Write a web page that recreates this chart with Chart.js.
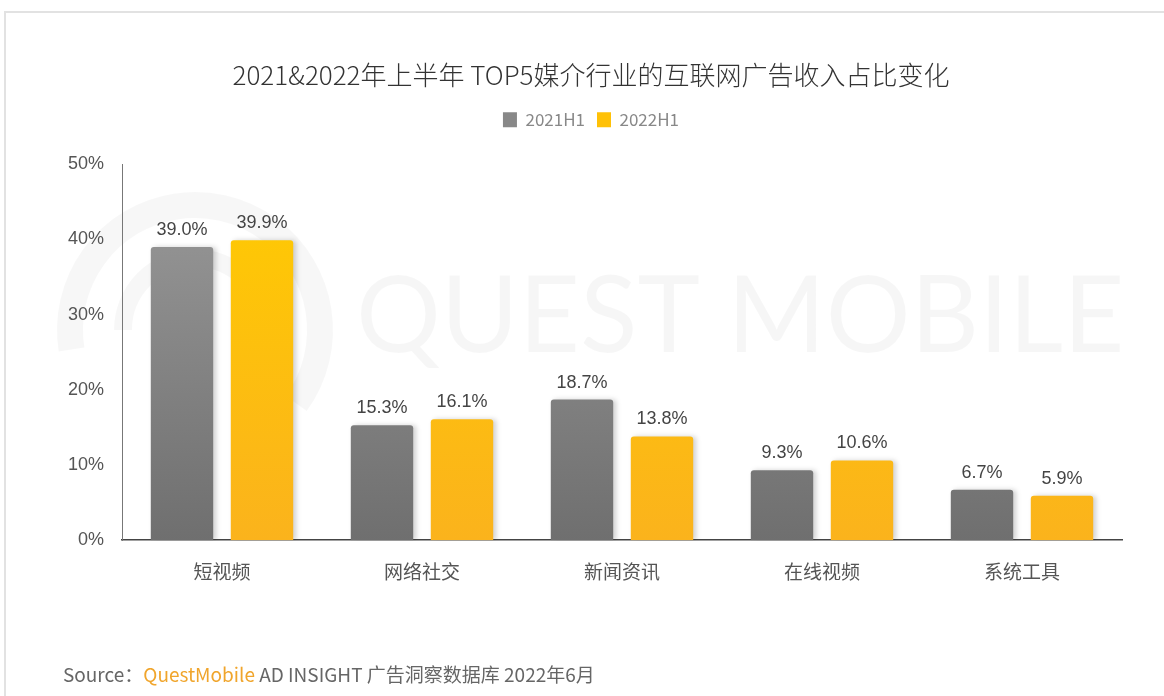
<!DOCTYPE html>
<html>
<head>
<meta charset="utf-8">
<script src="https://cdn.jsdelivr.net/npm/chart.js@4"></script>
<style>
  html, body { margin: 0; padding: 0; background: #fff; }
  #wrap { position: relative; width: 1164px; height: 696px; }
</style>
</head>
<body>
<div id="wrap"><canvas id="barChart" width="1164" height="696"></canvas></div>
<script>
const categories = ["短视频", "网络社交", "新闻资讯", "在线视频", "系统工具"];
const values2021 = [39.0, 15.3, 18.7, 9.3, 6.7];
const values2022 = [39.9, 16.1, 13.8, 10.6, 5.9];
const seriesLabels = ["2021H1", "2022H1"];
const yTicks = [0, 10, 20, 30, 40, 50];

const cjk = "'Noto Sans CJK SC', 'Liberation Sans', sans-serif";
const num = "'Liberation Sans', Arial, sans-serif";

function gradient(ctx, top, bottom) {
  const area = ctx.chart.chartArea;
  if (!area) return top;
  const g = ctx.chart.ctx.createLinearGradient(0, area.top, 0, area.bottom);
  g.addColorStop(0, top);
  g.addColorStop(1, bottom);
  return g;
}

// empty box between legend and plot
const spacer = {
  id: "spacer",
  afterInit(chart) {
    Chart.layouts.addBox(chart, {
      position: "top",
      weight: 0,
      fullSize: true,
      options: {},
      isHorizontal: () => true,
      getPadding: () => ({ top: 0, left: 0, right: 0, bottom: 0 }),
      update(w) { this.width = w; this.height = 26; },
      draw() {},
    });
  },
};

// frame, watermark, value labels and source line
const decorations = {
  id: "decorations",
  beforeDraw(chart) {
    const c = chart.ctx;
    c.save();
    c.strokeStyle = "#e2e2e2";
    c.lineWidth = 2;
    c.beginPath();
    c.moveTo(1164, 12);
    c.lineTo(5, 12);
    c.lineTo(5, 696);
    c.stroke();
    // watermark
    c.strokeStyle = "rgba(0,0,0,0.03)";
    c.lineWidth = 26;
    c.beginPath();
    c.arc(195, 330, 125, Math.PI * 0.95, Math.PI * 2.2);
    c.stroke();
    c.lineWidth = 18;
    c.beginPath();
    c.arc(195, 330, 72, Math.PI * 1.0, Math.PI * 2.1);
    c.stroke();
    c.fillStyle = "rgba(0,0,0,0.035)";
    c.font = "400 106px Lato, sans-serif";
    c.textBaseline = "middle";
    c.textAlign = "left";
    c.fillText("QUEST MOBILE", 356, 318);
    c.restore();
  },
  beforeDatasetsDraw(chart) {
    const c = chart.ctx;
    c.save();
    c.shadowColor = "rgba(0,0,0,0.18)";
    c.shadowBlur = 5;
    c.shadowOffsetX = 3;
    c.shadowOffsetY = 0;
  },
  afterDatasetsDraw(chart) {
    const c = chart.ctx;
    c.restore();
    c.save();
    c.font = "18px " + num;
    c.fillStyle = "#444";
    c.textAlign = "center";
    c.textBaseline = "bottom";
    chart.data.datasets.forEach((ds, i) => {
      chart.getDatasetMeta(i).data.forEach((bar, j) => {
        c.fillText(ds.data[j].toFixed(1) + "%", bar.x, bar.y - 8);
      });
    });
    // source line
    const parts = [
      ["Source：", "#666"],
      ["QuestMobile", "#f0a52c"],
      [" AD INSIGHT 广告洞察数据库 2022年6月", "#666"]
    ];
    c.font = "19px " + cjk;
    c.textAlign = "left";
    c.textBaseline = "middle";
    let x = 63;
    parts.forEach(([t, col]) => {
      c.fillStyle = col;
      c.fillText(t, x, 675);
      x += c.measureText(t).width;
    });
    c.restore();
  }
};

new Chart(document.getElementById("barChart"), {
  type: "bar",
  data: {
    labels: categories,
    datasets: [
      {
        label: seriesLabels[0],
        data: values2021,
        backgroundColor: (ctx) => gradient(ctx, "#9b9b9b", "#6f6f6f"),
        borderRadius: 3,
        borderSkipped: "bottom",
        categoryPercentage: 0.8,
        barPercentage: 0.78,
      },
      {
        label: seriesLabels[1],
        data: values2022,
        backgroundColor: (ctx) => gradient(ctx, "#ffcc00", "#fbb31c"),
        borderRadius: 3,
        borderSkipped: "bottom",
        categoryPercentage: 0.8,
        barPercentage: 0.78,
      },
    ],
  },
  options: {
    responsive: false,
    animation: false,
    layout: { padding: { top: 40, left: 60, right: 42, bottom: 101 } },
    plugins: {
      title: {
        display: true,
        text: "2021&2022年上半年 TOP5媒介行业的互联网广告收入占比变化",
        color: "#333",
        font: { family: cjk, size: 26, weight: "300" },
        padding: { top: 20, bottom: 8 },
      },
      legend: {
        display: true,
        labels: {
          color: "#888",
          font: { family: cjk, size: 17 },
          boxWidth: 14,
          boxHeight: 15,
          padding: 12,
          generateLabels: (chart) =>
            seriesLabels.map((l, i) => ({
              text: l,
              fillStyle: i === 0 ? "#888888" : "#ffc107",
              strokeStyle: "transparent",
              lineWidth: 0,
              datasetIndex: i,
              fontColor: "#888",
            })),
        },
      },
      tooltip: { enabled: false },
    },
    scales: {
      x: {
        grid: { display: false },
        border: { display: true, color: "#444", width: 1.5 },
        ticks: { color: "#555", font: { family: cjk, size: 19 }, padding: 12 },
      },
      y: {
        min: 0,
        max: 50,
        afterFit: (scale) => { scale.width = 62; },
        afterBuildTicks: (scale) => { scale.ticks = yTicks.map((v) => ({ value: v })); },
        grid: { display: false },
        border: { display: true, color: "#777", width: 1 },
        ticks: {
          color: "#555",
          font: { family: num, size: 18 },
          padding: 10,
          callback: (v) => v + "%",
        },
      },
    },
  },
  plugins: [spacer, decorations],
});
</script>
</body>
</html>
